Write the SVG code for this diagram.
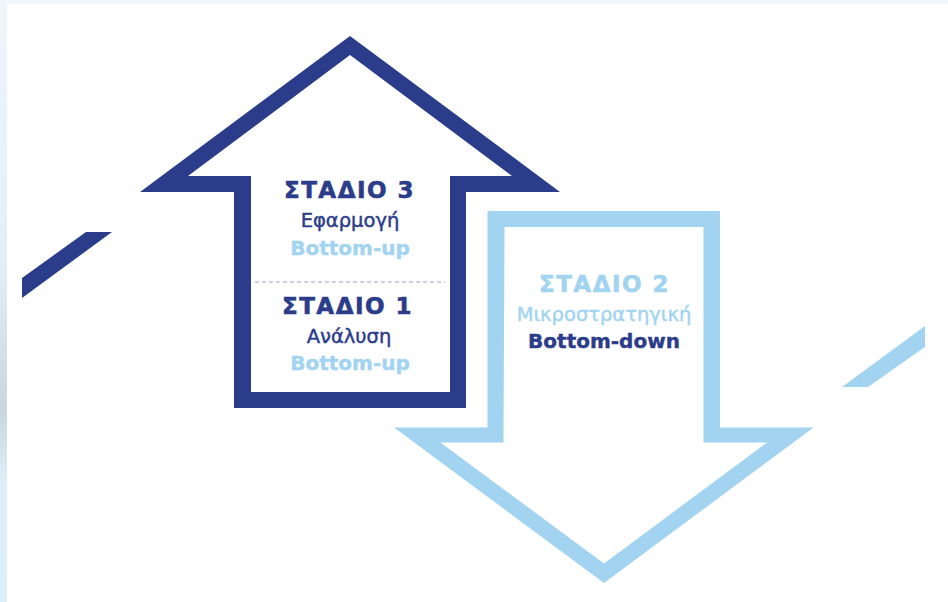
<svg xmlns="http://www.w3.org/2000/svg" width="948" height="602" viewBox="0 0 948 602">
  <defs>
    <linearGradient id="edge" x1="0" y1="0" x2="0" y2="1">
      <stop offset="0" stop-color="#eef6fc"/>
      <stop offset="0.45" stop-color="#e2eef6"/>
      <stop offset="0.68" stop-color="#c9d6de"/>
      <stop offset="0.8" stop-color="#dfedf6"/>
      <stop offset="1" stop-color="#dceffb"/>
    </linearGradient>
    <style>
      .dark { fill: #2b3c8b; }
      .light { fill: #a2d4f1; }
      .t { font-family: "DejaVu Sans", "Liberation Sans", sans-serif; text-anchor: middle; }
      .h { font-weight: bold; font-size: 23px; letter-spacing: 1.5px; stroke-width: 0.6px; }
      .s { font-size: 19.5px; stroke-width: 0.45px; }
      .b { font-weight: bold; font-size: 20px; stroke-width: 0.4px; }
      text.dark { stroke: #2b3c8b; }
      text.light { stroke: #a2d4f1; }
    </style>
  </defs>
  <rect x="0" y="0" width="948" height="602" fill="#ffffff"/>
  <rect x="0" y="0" width="948" height="4" fill="#eff7fd"/>
  <rect x="0" y="0" width="7" height="602" fill="url(#edge)"/>

  <g id="deco">
    <polygon class="dark" points="22,278 86,232 112,232 22,298"/>
    <polygon class="light" points="842,387 868,387 925,347 925,326"/>
  </g>

  <g id="arrow-down">
    <path class="light" fill-rule="evenodd" d="M487.5,211 L720,211 L720,427.5 L813.5,427.5 L604,583 L394,427.5 L487.5,427.5 Z M504.5,227 L503.5,442.5 L440.5,442.5 L604,563.5 L767,442.5 L703.5,442.5 L703.5,227 Z"/>
  </g>

  <g id="arrow-up">
    <path class="dark" fill-rule="evenodd" d="M350,36 L560,192 L466,192 L466,408 L234,408 L234,192 L140,192 Z M350,55 L188,176 L251,176 L251,392 L450,392 L450,176 L512,176 Z"/>
  </g>

  <g id="stage3">
    <text class="t h dark" x="349.5" y="198">ΣΤΑΔΙΟ 3</text>
    <text class="t s dark" x="350" y="227">Εφαρμογή</text>
    <text class="t b light" x="350" y="255">Bottom-up</text>
  </g>
  <line x1="255" y1="282" x2="445" y2="282" stroke="#9ba0d1" stroke-width="1.2" stroke-dasharray="4 3"/>
  <g id="stage1">
    <text class="t h dark" x="347.5" y="314">ΣΤΑΔΙΟ 1</text>
    <text class="t s dark" x="349" y="343">Ανάλυση</text>
    <text class="t b light" x="350" y="370">Bottom-up</text>
  </g>
  <g id="stage2">
    <text class="t h light" x="604.5" y="292">ΣΤΑΔΙΟ 2</text>
    <text class="t s light" x="604" y="321">Μικροστρατηγική</text>
    <text class="t b dark" x="604" y="348">Bottom-down</text>
  </g>
</svg>
